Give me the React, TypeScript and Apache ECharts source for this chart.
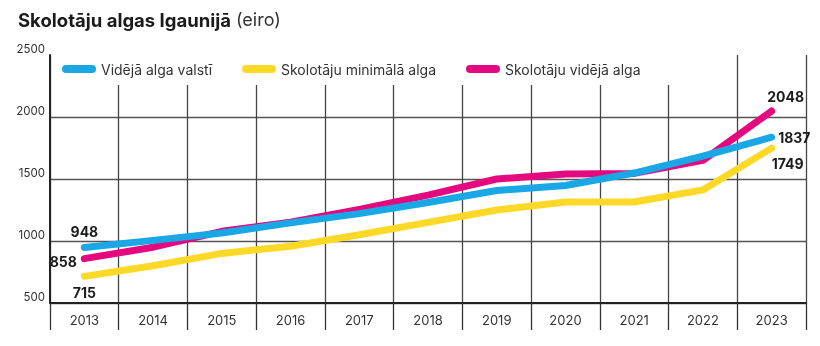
import React, { useEffect, useRef } from "react";
import * as echarts from "echarts";

const years = ["2013", "2014", "2015", "2016", "2017", "2018", "2019", "2020", "2021", "2022", "2023"];
const avgWage = [948, 1005, 1065, 1146, 1221, 1310, 1407, 1448, 1548, 1685, 1837];
const teacherMin = [715, 800, 900, 958, 1050, 1150, 1250, 1315, 1315, 1412, 1749];
const teacherAvg = [858, 950, 1078, 1152, 1255, 1370, 1500, 1540, 1545, 1650, 2048];
const seriesNames = ["Vidējā alga valstī", "Skolotāju minimālā alga", "Skolotāju vidējā alga"];
const titleMain = "Skolotāju algas Igaunijā";
const titleUnit = "(eiro)";

const FONT = "Inter, 'Open Sans', sans-serif";
const labelBase = { show: true, fontFamily: FONT, fontWeight: "bold" as const, fontSize: 14, color: "#1c1c1c" };

function withLabels(values: number[], first: any, last: any) {
  return values.map((v, i) => {
    if (i === 0) return { value: v, label: { ...labelBase, ...first } };
    if (i === values.length - 1) return { value: v, label: { ...labelBase, ...last } };
    return { value: v };
  });
}

export default function App() {
  const ref = useRef<HTMLDivElement>(null);
  useEffect(() => {
    if (!ref.current) return;
    const chart = echarts.init(ref.current, undefined, { renderer: "svg" });
    const icon = "path://M4,0 H30 A4,4 0 0 1 30,8 H4 A4,4 0 0 1 4,0 Z";
    const lineCommon = (color: string, z: number) => ({
      type: "line" as const,
      symbol: "circle",
      symbolSize: 5,
      showSymbol: true,
      z,
      color,
      itemStyle: { color },
      lineStyle: { color, width: 7, cap: "round" as const, join: "round" as const },
      label: { show: false },
    });
    chart.setOption({
      animation: false,
      title: {
        left: 13,
        top: 5,
        text: `{b|${titleMain}} {n|${titleUnit}}`,
        textStyle: {
          rich: {
            b: { fontFamily: FONT, fontWeight: "bold", fontSize: 18.5, color: "#1a1a1a" },
            n: { fontFamily: FONT, fontWeight: "normal", fontSize: 18, color: "#333" },
          },
        },
      },
      legend: {
        left: 52,
        top: 53,
        padding: [9, 58, 9, 10],
        backgroundColor: "#fff",
        itemWidth: 34,
        itemHeight: 8,
        itemGap: 30,
        data: seriesNames.map((n) => ({ name: n, icon })),
        textStyle: { fontFamily: FONT, fontSize: 14, color: "#333" },
      },
      grid: { left: 50, right: 14, top: 55, bottom: 43 },
      xAxis: {
        type: "category",
        data: years,
        boundaryGap: true,
        axisLine: { lineStyle: { color: "#222", width: 2 } },
        axisTick: { show: true, length: 27, lineStyle: { color: "#333", width: 1.3 } },
        axisLabel: { fontFamily: FONT, fontSize: 13, color: "#333", margin: 10 },
        splitLine: { show: true, lineStyle: { color: "#444", width: 1.3 } },
      },
      yAxis: {
        type: "value",
        min: 500,
        max: 2500,
        interval: 500,
        axisLine: { show: true, lineStyle: { color: "#222", width: 2 } },
        axisTick: { show: false },
        axisLabel: {
          fontFamily: FONT,
          fontSize: 11.5,
          color: "#333",
          margin: 5,
          verticalAlign: "bottom",
          formatter: (v: number) => String(v),
        },
        splitLine: { show: true, showMaxLine: false, lineStyle: { color: "#555", width: 1.3 } },
      },
      series: [
        {
          ...lineCommon("#1aa7e6", 5),
          name: seriesNames[0],
          data: withLabels(
            avgWage,
            { position: "top", distance: 6 },
            { position: "right", distance: 4 }
          ),
        },
        {
          ...lineCommon("#fdd927", 3),
          name: seriesNames[1],
          data: withLabels(
            teacherMin,
            { position: "bottom", distance: 7 },
            { position: "bottom", distance: 6, offset: [16, 0] }
          ),
        },
        {
          ...lineCommon("#e5097f", 4),
          name: seriesNames[2],
          data: withLabels(
            teacherAvg,
            { position: "left", distance: 5, offset: [0, 3] },
            { position: "top", distance: 5, offset: [14, 0] }
          ),
        },
      ],
    });
    return () => chart.dispose();
  }, []);
  return <div ref={ref} style={{ position: "fixed", left: 0, top: 0, width: 820, height: 346 }} />;
}
